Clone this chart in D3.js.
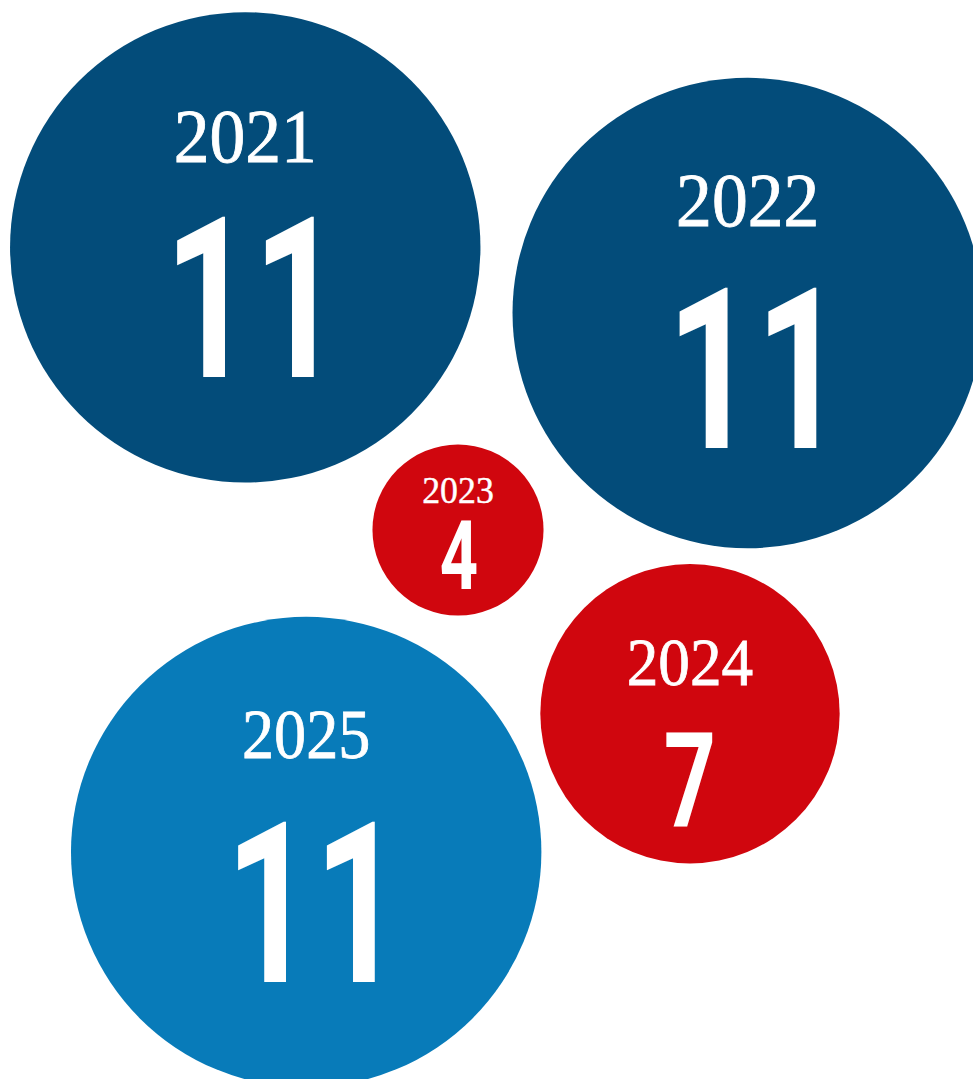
<!DOCTYPE html>
<html>
<head>
<meta charset="utf-8">
<script src="https://cdn.jsdelivr.net/npm/d3@7"></script>
<style>
  body { margin: 0; background: #fff; }
  svg { display: block; }
  .year { font-family: "Liberation Serif", "Times New Roman", serif; }
  .count { font-family: Roboto, "Liberation Sans", Arial, sans-serif; font-weight: 700; }
</style>
</head>
<body>
<div id="bubbles_area"></div>
<script>
// data
var years = ["2021", "2022", "2023", "2024", "2025"];
var counts = [11, 11, 4, 7, 11];

// bubble centres, in the same units as the counts (so one scale maps both)
var centreX = [11.47, 34.97, 21.42, 32.27, 14.32];
var centreY = [11.57, 14.64, 24.79, 33.38, 39.85];

// colours + label sizing per bubble
var fills = ["#034c7a", "#034c7a", "#d0060e", "#d0060e", "#087bb9"];
var yearSize = [77, 77, 38.5, 68, 69];
var yearDy = [-85, -87.3, -27.3, -28.7, -93.7];
var numSize = [224, 224, 97, 132, 224];
var numDx = [8, 8, 1, 0, 8];
var numDy = [129.4, 134.7, 59.3, 112.3, 130.3];

var width = 973, height = 1079;

// px per unit: an 11 bubble has a radius of ~235px
var size = d3.scaleLinear().domain([0, 11]).range([0, 235.2]);

var nodes = years.map(function(y, i) {
    return {
        year: y,
        count: counts[i],
        x: size(centreX[i]),
        y: size(centreY[i]),
        r: size(counts[i]),
        i: i
    };
});

var svg = d3.select("#bubbles_area")
    .append("svg")
    .attr("width", width)
    .attr("height", height)
    .attr("class", "bubble");

var node = svg.selectAll(".node")
    .data(nodes)
    .enter()
    .append("g")
    .attr("class", "node")
    .attr("transform", function(d) {
        return "translate(" + d.x + "," + d.y + ")";
    });

node.append("circle")
    .attr("r", function(d) { return d.r; })
    .style("fill", function(d) { return fills[d.i]; });

node.append("text")
    .attr("class", "year")
    .attr("transform", function(d) {
        return "translate(0," + yearDy[d.i] + ") scale(0.93,1)";
    })
    .style("text-anchor", "middle")
    .style("font-size", function(d) { return yearSize[d.i] + "px"; })
    .attr("fill", "#fff")
    .attr("stroke", "#fff")
    .attr("stroke-width", function(d) { return yearSize[d.i] / 90; })
    .text(function(d) { return d.year; });

// condensed bold numbers: squeeze the bold sans horizontally
node.append("text")
    .attr("class", "count")
    .attr("transform", function(d) {
        return "translate(" + numDx[d.i] + "," + numDy[d.i] + ") scale(0.69,1)";
    })
    .style("text-anchor", "middle")
    .style("font-size", function(d) { return numSize[d.i] + "px"; })
    .attr("fill", "#fff")
    .text(function(d) { return d.count; });
</script>
</body>
</html>
